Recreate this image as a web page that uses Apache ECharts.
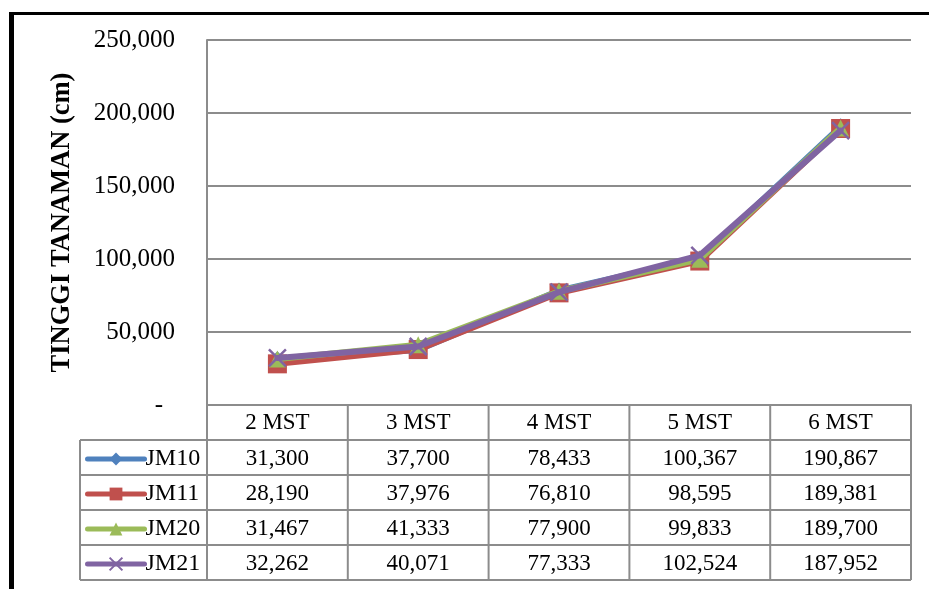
<!DOCTYPE html>
<html>
<head>
<meta charset="utf-8">
<style>
  html, body { margin: 0; padding: 0; background: #fff; }
  #chart { width: 929px; height: 589px; }
</style>
<script src="https://cdn.jsdelivr.net/npm/echarts@6/dist/echarts.min.js"></script>
</head>
<body>
<div id="chart"></div>
<script>
// Plant height (cm) per observation week, four lines JM10..JM21
const categories = ['2 MST', '3 MST', '4 MST', '5 MST', '6 MST'];
const seriesNames = ['JM10', 'JM11', 'JM20', 'JM21'];
const jm10 = [31.300, 37.700, 78.433, 100.367, 190.867];
const jm11 = [28.190, 37.976, 76.810, 98.595, 189.381];
const jm20 = [31.467, 41.333, 77.900, 99.833, 189.700];
const jm21 = [32.262, 40.071, 77.333, 102.524, 187.952];
const yTicks = [0, 50, 250]; // min, interval, max
const yTitle = 'TINGGI TANAMAN (cm)';

const seriesValues = [jm10, jm11, jm20, jm21];
const colors = ['#4F81BD', '#C0504D', '#9BBB59', '#8064A2'];
const symbols = ['diamond', 'rect', 'triangle', 'path://M0,0L10,10M10,0L0,10'];
const symbolSizes = [16, 19, 17, 17];

const FONT = '"Liberation Serif", "Times New Roman", serif';
const GRID = { left: 207, right: 18, top: 40, bottom: 184 };
const ROW_H = 35;
const LEGEND_LEFT = 80;
const LINE_CLR = '#8c8c8c';

// Excel-style number: comma decimal separator, zero shown as a dash
function fmt(v) {
  if (v === 0) return '-';
  return v.toFixed(3).replace('.', ',');
}

const chart = echarts.init(document.getElementById('chart'), null, { renderer: 'canvas' });

const series = seriesNames.map((name, i) => ({
  name: name,
  type: 'line',
  data: seriesValues[i],
  symbol: symbols[i],
  symbolSize: symbolSizes[i],
  showAllSymbol: true,
  lineStyle: { color: colors[i], width: 6, cap: 'round', join: 'round' },
  itemStyle: { color: colors[i], borderColor: colors[i], borderWidth: i === 3 ? 2.5 : 0 },
  emphasis: { disabled: true },
  z: 3 + i
}));

const legends = seriesNames.map((name, i) => ({
  data: [name],
  left: LEGEND_LEFT + 5,
  top: 589 - GRID.bottom + ROW_H * (i + 1) + 7,
  itemWidth: 57,
  itemHeight: 16,
  itemGap: 0,
  padding: 0,
  selectedMode: false,
  lineStyle: { width: 5, cap: 'round' },
  textStyle: { fontFamily: FONT, fontSize: 24, color: '#000', padding: [3, 0, 0, -4] }
}));

chart.setOption({
  animation: false,
  backgroundColor: '#fff',
  grid: GRID,
  legend: legends,
  xAxis: {
    type: 'category',
    data: categories,
    boundaryGap: true,
    axisLine: { show: true, lineStyle: { color: LINE_CLR, width: 2 } },
    axisTick: { show: false },
    axisLabel: { fontFamily: FONT, fontSize: 23, color: '#000', margin: 6 }
  },
  yAxis: {
    type: 'value',
    min: yTicks[0],
    interval: yTicks[1],
    max: yTicks[2],
    name: yTitle,
    nameLocation: 'middle',
    nameGap: 131,
    nameRotate: 90,
    nameTextStyle: { fontFamily: FONT, fontSize: 26.5, fontWeight: 'bold', color: '#000' },
    axisLine: { show: true, lineStyle: { color: LINE_CLR, width: 2 } },
    axisTick: { show: false },
    splitLine: { show: true, lineStyle: { color: LINE_CLR, width: 2 } },
    axisLabel: {
      fontFamily: FONT, fontSize: 25, color: '#000', margin: 32,
      formatter: v => v === 0 ? '{dash|-}' : fmt(v),
      rich: { dash: { fontFamily: FONT, fontSize: 25, color: '#000', padding: [0, 12, 0, 0] } }
    }
  },
  series: series
});

// Data table under the plot: grid lines and the value cells
function buildTable() {
  const W = chart.getWidth();
  const H = chart.getHeight();
  const x0 = GRID.left;
  const x1 = W - GRID.right;
  const yTop = chart.convertToPixel({ yAxisIndex: 0 }, 0);
  const n = categories.length;
  const colW = (x1 - x0) / n;
  const rows = seriesNames.length;
  const yEnd = yTop + ROW_H * (rows + 1);
  const els = [];
  const line = (ax, ay, bx, by) => els.push({
    type: 'line', silent: true, z: 1,
    shape: { x1: ax, y1: ay, x2: bx, y2: by },
    style: { stroke: LINE_CLR, lineWidth: 2 }
  });
  // horizontal rules
  for (let r = 1; r <= rows + 1; r++) {
    const y = yTop + ROW_H * r;
    line(LEGEND_LEFT, y, x1, y);
  }
  // vertical rules
  for (let c = 0; c <= n; c++) {
    const x = x0 + colW * c;
    line(x, yTop, x, yEnd);
  }
  line(LEGEND_LEFT, yTop + ROW_H, LEGEND_LEFT, yEnd);
  // value cells
  seriesValues.forEach((vals, r) => {
    vals.forEach((v, c) => {
      const cx = chart.convertToPixel({ xAxisIndex: 0 }, c);
      els.push({
        type: 'text', silent: true, z: 5,
        x: cx, y: yTop + ROW_H * (r + 1) + ROW_H / 2 + 1,
        style: {
          text: fmt(v), fontFamily: FONT, fontSize: 23, fill: '#000',
          align: 'center', verticalAlign: 'middle'
        }
      });
    });
  });
  // page frame
  els.push({ type: 'rect', silent: true, shape: { x: 9, y: 12, width: 5, height: H - 12 }, style: { fill: '#000' } });
  els.push({ type: 'rect', silent: true, shape: { x: 9, y: 12, width: W - 9, height: 3 }, style: { fill: '#000' } });
  chart.setOption({ graphic: { elements: els } });
}
buildTable();
</script>
</body>
</html>
